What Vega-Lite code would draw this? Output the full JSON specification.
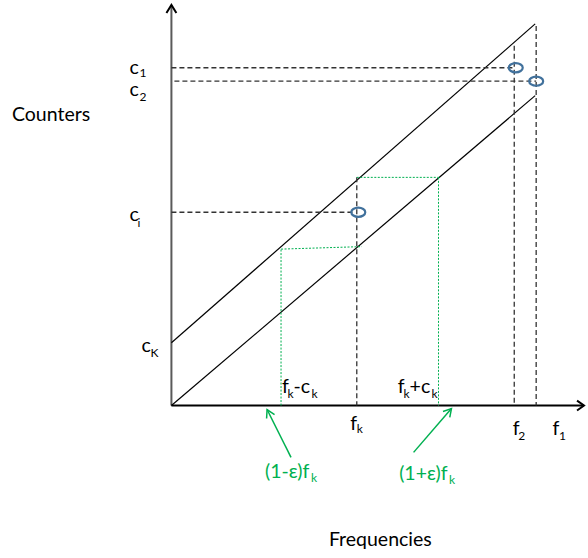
{
  "$schema": "https://vega.github.io/schema/vega-lite/v6.json",
  "width": 588,
  "height": 558,
  "autosize": {"type": "fit", "contains": "padding"},
  "padding": 0,
  "background": "white",
  "config": {"view": {"stroke": null}, "text": {"font": "Lato"}},
  "datasets": {
    "axisY": [{"x": 0, "y": 0, "x2": 0, "y2": 402}],
    "axisX": [{"x": 0, "y": 0, "x2": 414, "y2": 0}],
    "arrowHeads": [
      {"id": "yaxis", "o": 1, "x": -5, "y": 394},
      {"id": "yaxis", "o": 2, "x": 0, "y": 402},
      {"id": "yaxis", "o": 3, "x": 5, "y": 394},
      {"id": "xaxis", "o": 1, "x": 407, "y": 5},
      {"id": "xaxis", "o": 2, "x": 414, "y": 0},
      {"id": "xaxis", "o": 3, "x": 407, "y": -5}
    ],
    "bounds": [
      {"x": 0, "y": 63, "x2": 365, "y2": 383},
      {"x": 0, "y": 0, "x2": 365, "y2": 311}
    ],
    "dashed": [
      {"x": 0, "y": 339, "x2": 345, "y2": 339},
      {"x": 3, "y": 325.5, "x2": 366, "y2": 325.5},
      {"x": 344, "y": 361, "x2": 344, "y2": 0},
      {"x": 366, "y": 381, "x2": 366, "y2": 0},
      {"x": 0, "y": 194, "x2": 184, "y2": 194},
      {"x": 186, "y": 229, "x2": 186, "y2": 0}
    ],
    "greenDashed": [
      {"x": 110, "y": 0, "x2": 110, "y2": 157},
      {"x": 110, "y": 157, "x2": 191, "y2": 159.5},
      {"x": 186, "y": 229, "x2": 269, "y2": 229},
      {"x": 268, "y": 229, "x2": 268, "y2": 0}
    ],
    "greenShafts": [
      {"x": 120, "y": -52, "x2": 96, "y2": -4},
      {"x": 243, "y": -47, "x2": 281, "y2": -3}
    ],
    "greenHeads": [
      {"id": "left", "o": 1, "x": 103.5, "y": -9},
      {"id": "left", "o": 2, "x": 96, "y": -4},
      {"id": "left", "o": 3, "x": 95.5, "y": -13},
      {"id": "right", "o": 1, "x": 279.3, "y": -11.8},
      {"id": "right", "o": 2, "x": 281, "y": -3},
      {"id": "right", "o": 3, "x": 272.5, "y": -6}
    ],
    "circles": [
      {"x": 345.5, "y": 339},
      {"x": 366, "y": 325.5},
      {"x": 187.5, "y": 194}
    ],
    "labels": [
      {"x": -160, "y": 286, "t": "Counters"},
      {"x": -42, "y": 333, "t": "c"},
      {"x": -42, "y": 311, "t": "c"},
      {"x": -42, "y": 185, "t": "c"},
      {"x": -30, "y": 54, "t": "c"},
      {"x": 111, "y": 13, "t": "f"},
      {"x": 122.5, "y": 13, "t": "-c"},
      {"x": 227, "y": 13, "t": "f"},
      {"x": 239, "y": 13, "t": "+c"},
      {"x": 179.5, "y": -25, "t": "f"},
      {"x": 342.5, "y": -30, "t": "f"},
      {"x": 382.5, "y": -30, "t": "f"},
      {"x": 158, "y": -141, "t": "Frequencies"}
    ],
    "subs": [
      {"x": -32, "y": 330, "t": "1"},
      {"x": -32, "y": 306, "t": "2"},
      {"x": -34, "y": 179, "t": "i"},
      {"x": -21, "y": 49, "t": "K"},
      {"x": 116.5, "y": 8, "t": "k"},
      {"x": 140.5, "y": 8, "t": "k"},
      {"x": 233, "y": 8, "t": "k"},
      {"x": 261, "y": 8, "t": "k"},
      {"x": 186, "y": -28, "t": "k"},
      {"x": 348, "y": -35, "t": "2"},
      {"x": 389, "y": -35, "t": "1"}
    ],
    "greenLabels": [
      {"x": 94, "y": -73, "t": "(1-ε)f"},
      {"x": 228.5, "y": -75, "t": "(1+ε)f"}
    ],
    "greenSubs": [
      {"x": 140, "y": -77, "t": "k"},
      {"x": 278.5, "y": -79, "t": "k"}
    ]
  },
  "encoding": {
    "x": {"field": "x", "type": "quantitative", "scale": {"domain": [-172, 416], "nice": false, "zero": false}, "axis": null},
    "y": {"field": "y", "type": "quantitative", "scale": {"domain": [-153, 405], "nice": false, "zero": false}, "axis": null}
  },
  "layer": [
    {
      "data": {"name": "axisY"},
      "mark": {"type": "rule", "color": "#5a5a5a", "strokeWidth": 2},
      "encoding": {"x2": {"field": "x2"}, "y2": {"field": "y2"}}
    },
    {
      "data": {"name": "axisX"},
      "mark": {"type": "rule", "color": "#000000", "strokeWidth": 2},
      "encoding": {"x2": {"field": "x2"}, "y2": {"field": "y2"}}
    },
    {
      "data": {"name": "arrowHeads"},
      "mark": {"type": "line", "color": "#000000", "strokeWidth": 2},
      "encoding": {"detail": {"field": "id"}, "order": {"field": "o", "type": "quantitative"}}
    },
    {
      "data": {"name": "bounds"},
      "mark": {"type": "rule", "color": "#000000", "strokeWidth": 1.2},
      "encoding": {"x2": {"field": "x2"}, "y2": {"field": "y2"}}
    },
    {
      "data": {"name": "dashed"},
      "mark": {"type": "rule", "color": "#333333", "strokeWidth": 1.3, "strokeDash": [5, 3]},
      "encoding": {"x2": {"field": "x2"}, "y2": {"field": "y2"}}
    },
    {
      "data": {"name": "greenDashed"},
      "mark": {"type": "rule", "color": "#00B050", "strokeWidth": 1, "strokeDash": [2, 1.5]},
      "encoding": {"x2": {"field": "x2"}, "y2": {"field": "y2"}}
    },
    {
      "data": {"name": "greenShafts"},
      "mark": {"type": "rule", "color": "#00B050", "strokeWidth": 1.5},
      "encoding": {"x2": {"field": "x2"}, "y2": {"field": "y2"}}
    },
    {
      "data": {"name": "greenHeads"},
      "mark": {"type": "line", "color": "#00B050", "strokeWidth": 1.5},
      "encoding": {"detail": {"field": "id"}, "order": {"field": "o", "type": "quantitative"}}
    },
    {
      "data": {"name": "circles"},
      "mark": {"type": "point", "shape": "M -1 0 A 1 0.65 0 1 1 1 0 A 1 0.65 0 1 1 -1 0 Z", "size": 196, "filled": false, "stroke": "#41719C", "strokeWidth": 2.2, "opacity": 1, "fill": "white", "fillOpacity": 0}
    },
    {
      "data": {"name": "labels"},
      "mark": {"type": "text", "fontSize": 19.5, "align": "left", "baseline": "alphabetic", "color": "#000000"},
      "encoding": {"text": {"field": "t"}}
    },
    {
      "data": {"name": "subs"},
      "mark": {"type": "text", "fontSize": 12, "align": "left", "baseline": "alphabetic", "color": "#000000"},
      "encoding": {"text": {"field": "t"}}
    },
    {
      "data": {"name": "greenLabels"},
      "mark": {"type": "text", "fontSize": 19.5, "align": "left", "baseline": "alphabetic", "color": "#00B050"},
      "encoding": {"text": {"field": "t"}}
    },
    {
      "data": {"name": "greenSubs"},
      "mark": {"type": "text", "fontSize": 12, "align": "left", "baseline": "alphabetic", "color": "#00B050"},
      "encoding": {"text": {"field": "t"}}
    }
  ]
}
